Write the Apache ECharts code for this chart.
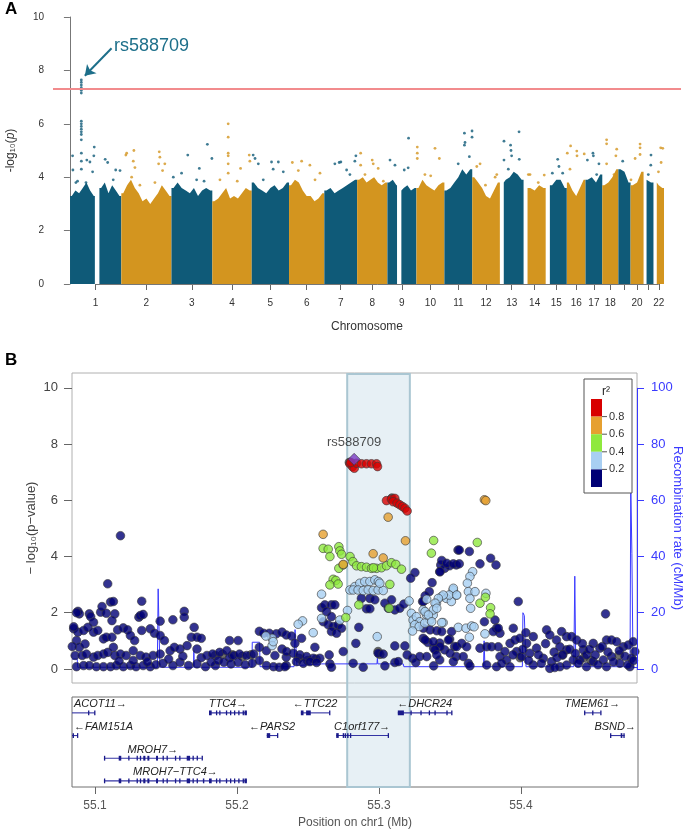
<!DOCTYPE html>
<html>
<head>
<meta charset="utf-8">
<script src="https://cdn.jsdelivr.net/npm/echarts@6/dist/echarts.min.js"></script>
<style>
  html, body { margin: 0; padding: 0; background: #fff; }
  #chart { width: 685px; height: 833px; }
</style>
</head>
<body>
<div id="chart"></div>
<script>
// ---------- panel A : genome-wide manhattan ----------
var chrLen = [249.25, 243.2, 198.0, 191.15, 180.9, 171.1, 159.1, 146.4, 141.2, 135.5, 135.0,
  133.9, 115.2, 107.3, 102.5, 90.4, 81.2, 78.1, 59.1, 63.0, 48.1, 51.3];
var chrTickLabels = ['1', '2', '3', '4', '5', '6', '7', '8', '9', '10', '11', '12', '13', '14',
  '15', '16', '17', '18', '', '20', '', '22'];
// parts of each chromosome that carry SNPs (Mb), null = whole chromosome
var chrCovered = [[[0.6, 121], [143, 249]], null, null, null, null, null, null, null,
  [[0.3, 47], [68, 141]], null, null, null, [[19, 115]], [[19, 107]], [[20, 102]],
  null, null, null, null, null, [[14.5, 48]], [[16, 51]]];
// height of the dense cloud along each chromosome
var chrTop = [
  [3.3, 3.5, 3.4, 3.6, 3.8, 3.5, 3.3, 3.4, 3.6, 3.8, 3.4, 3.7, 3.5, 3.3],
  [3.4, 3.7, 3.9, 3.6, 3.4, 3.1, 3.2, 3.0, 3.2, 3.4, 3.7, 3.5, 3.3],
  [3.6, 3.8, 3.6, 3.5, 3.4, 3.6, 3.3, 3.5, 3.6, 3.5],
  [3.1, 3.2, 3.4, 3.6, 3.2, 3.3, 3.2, 3.4, 3.6, 3.5],
  [3.8, 3.6, 3.5, 3.4, 3.6, 3.7, 3.5, 3.6, 3.8],
  [3.7, 3.9, 3.8, 3.5, 3.3, 3.3, 3.1, 3.2, 3.4],
  [3.5, 3.6, 3.4, 3.5, 3.6, 3.7, 3.8, 3.9],
  [3.9, 4.0, 3.8, 3.9, 4.0, 3.8, 3.7, 3.8],
  [3.8, 3.9, 3.7, 3.5, 3.6, 3.7, 3.5, 3.6],
  [3.6, 3.9, 3.7, 3.6, 3.5, 3.7, 3.8],
  [3.5, 3.6, 3.8, 4.0, 4.3, 4.1, 4.3],
  [4.0, 3.8, 3.6, 3.3, 3.2, 3.5, 3.8],
  [3.8, 3.9, 4.0, 4.2, 4.1, 3.9],
  [3.6, 3.6, 3.5, 3.7, 3.6],
  [3.7, 3.7, 3.9, 3.9, 3.6],
  [3.8, 3.5, 3.3, 3.6, 3.9],
  [3.9, 4.0, 3.8, 4.1],
  [3.7, 3.8, 4.0, 4.3],
  [4.3, 4.2, 3.8],
  [3.7, 3.8, 4.2],
  [3.9, 3.8],
  [3.8, 3.7, 3.6]
];
// single SNPs standing out above the cloud: [Mb on chromosome, -log10 p]
var chrHits = [
  [[14.5, 4.27], [13, 4.8], [29, 3.8], [37, 3.85], [55.3, 7.64], [55.3, 7.55], [55.3, 7.45], [55.3, 7.35],
   [55.3, 7.25], [55.3, 7.15], [55.3, 6.1], [55.3, 6.0], [55.3, 5.9], [55.3, 5.8], [55.3, 5.7], [55.3, 5.6],
   [55.3, 5.4], [55.5, 4.9], [55.5, 4.6], [55.5, 4.3], [82, 4.64], [97, 4.57], [118, 5.13], [116, 4.8],
   [110, 4.2], [78, 3.8], [171, 4.67], [183, 4.55], [222, 4.27], [243, 4.25], [210, 3.9]],
  [[22, 4.83], [26, 4.9], [61, 5.0], [58, 4.6], [66, 4.36], [50, 4.0], [184, 4.95], [187, 4.75],
   [181, 4.5], [200, 4.25], [211, 4.5], [163, 3.8], [90, 3.7]],
  [[79, 4.83], [49, 4.15], [135, 4.33], [174, 5.23], [196, 4.7], [9, 4.0], [122, 3.9], [158, 3.85]],
  [[77, 6.0], [77, 5.5], [77, 4.9], [77, 4.8], [77, 4.5], [77, 4.15], [137, 4.33], [179, 4.83],
   [182, 4.6], [37, 3.9], [121, 3.85]],
  [[7, 4.83], [16, 4.7], [32, 4.5], [96, 4.57], [129, 4.57], [104, 4.3], [56, 3.9], [153, 4.2]],
  [[16, 4.55], [61, 4.6], [101, 4.45], [150, 4.15], [45, 4.25], [126, 3.9]],
  [[51, 4.5], [72, 4.55], [80, 4.57], [108, 4.27], [153, 4.8], [148, 4.6], [124, 4.1]],
  [[17, 4.9], [17, 4.45], [73, 4.64], [78, 4.5], [102, 4.33], [38, 4.1], [127, 3.85]],
  [[13, 4.64], [37, 4.45], [82, 4.27], [103, 5.46], [101, 4.35]],
  [[4, 5.13], [4, 4.9], [4, 4.7], [90, 5.08], [111, 4.7], [41, 4.1], [69, 4.05]],
  [[97, 5.65], [97, 5.2], [100, 5.3], [121, 4.77], [134, 5.73], [134, 5.5], [67, 4.5]],
  [[22, 4.4], [64, 3.7], [111, 4.0], [119, 4.1], [38, 4.5]],
  [[20, 5.35], [52, 5.2], [54, 5.0], [57, 4.8], [93, 5.7], [94, 4.67], [20, 4.64], [41, 4.3]],
  [[23, 4.1], [31, 4.1], [100, 4.08], [71, 3.8]],
  [[58, 4.67], [32, 4.15], [82, 4.15], [64, 4.4]],
  [[18, 5.17], [2, 4.9], [48, 4.98], [49, 4.8], [84, 4.87], [15, 4.3]],
  [[9, 4.64], [36, 4.9], [38, 4.8], [65, 4.5], [54, 4.1]],
  [[21, 5.4], [21, 5.25], [70, 5.05], [66, 4.8], [21, 4.5], [57, 4.1]],
  [[21, 4.6]],
  [[46, 5.24], [46, 5.1], [46, 4.85], [22, 4.7], [2, 3.9]],
  [[36, 4.83], [35, 4.45], [23, 4.1]],
  [[35, 5.1], [45, 5.08], [37, 4.55], [24, 4.2]]
];
var gwsLine = 7.3;
var leadChr = 0, leadMb = 55.3;

// ---------- panel B : regional plot ----------
var leadSnp = [[55.2829, 7.46]];
var r2Red = [[55.2799, 7.3], [55.2817, 7.2], [55.283, 7.14], [55.2846, 7.32], [55.2881, 7.3], [55.2916, 7.3],
  [55.2951, 7.3], [55.2987, 7.3], [55.2994, 7.2], [55.2805, 7.35], [55.3057, 5.99], [55.3092, 6.04],
  [55.3116, 6.07], [55.3104, 5.95], [55.3132, 5.9], [55.3151, 5.84], [55.317, 5.78], [55.3187, 5.72],
  [55.3203, 5.62]];
var r2Orange = [[55.3069, 5.4], [55.261, 4.79], [55.3191, 4.56], [55.2963, 4.1], [55.3034, 3.95],
  [55.2752, 3.72], [55.3748, 6.02], [55.3758, 5.99]];
var r2Green = [[55.339, 4.57], [55.3374, 4.12], [55.3698, 4.5], [55.261, 4.29], [55.2646, 4.26], [55.2721, 4.35],
  [55.2728, 4.2], [55.2658, 4.0], [55.274, 4.08], [55.280, 4.0], [55.282, 3.82], [55.2721, 3.58],
  [55.2752, 3.7], [55.2846, 3.67], [55.288, 3.64], [55.2916, 3.62], [55.2951, 3.58], [55.2987, 3.58],
  [55.3022, 3.6], [55.3057, 3.67], [55.3092, 3.78], [55.3123, 3.72], [55.3163, 3.55], [55.2965, 3.6],
  [55.2681, 3.19], [55.2700, 3.15], [55.2658, 2.99], [55.2716, 3.02], [55.3081, 3.01], [55.2862, 2.28],
  [55.3076, 2.16], [55.277, 1.83], [55.3717, 2.34], [55.3755, 2.55], [55.3792, 2.18], [55.3788, 1.96]];
var r2Blue = [[55.225, 1.09], [55.225, 0.83], [55.2206, 1.17], [55.2258, 0.97],
  [55.2599, 2.66], [55.2799, 2.81], [55.2834, 2.93], [55.2869, 3.05], [55.2904, 3.11], [55.294, 3.11],
  [55.2975, 3.17], [55.300, 3.11], [55.2822, 2.81], [55.2857, 2.81], [55.2893, 2.79], [55.2928, 2.81],
  [55.2963, 2.79], [55.2998, 2.81], [55.3034, 2.79], [55.3010, 3.05],
  [55.2465, 1.71], [55.2434, 1.59], [55.254, 1.29], [55.2599, 1.8], [55.2728, 1.74], [55.2782, 2.08],
  [55.2992, 1.15], [55.3217, 2.42], [55.3233, 1.98], [55.3245, 1.74], [55.3268, 1.86], [55.3292, 1.68],
  [55.3316, 2.1], [55.334, 1.92], [55.3363, 1.74], [55.3257, 1.57], [55.3288, 1.51], [55.3241, 1.35],
  [55.3327, 1.63], [55.3410, 2.34], [55.3445, 2.57], [55.348, 2.51], [55.3515, 2.4], [55.355, 2.63],
  [55.3527, 2.81], [55.3457, 1.65], [55.3387, 1.92], [55.3665, 3.46], [55.3646, 3.29], [55.3628, 3.05],
  [55.3635, 2.75], [55.3646, 2.51], [55.3651, 2.16], [55.3682, 2.75], [55.3529, 2.87], [55.35, 2.63],
  [55.3553, 2.63], [55.3458, 2.63], [55.3423, 2.51], [55.34, 2.34], [55.3388, 2.1], [55.3412, 2.16],
  [55.3341, 2.48], [55.3329, 2.04], [55.3353, 1.92], [55.3376, 1.68], [55.3447, 1.65], [55.3564, 1.48],
  [55.3618, 1.45], [55.3658, 1.53], [55.3675, 1.5], [55.3642, 1.13], [55.3752, 1.25], [55.3759, 2.69]];
var r2Navy = [[55.109, 3.03], [55.118, 4.74], [55.111, 2.38], [55.113, 2.4], [55.133, 2.41], [55.088, 2.05],
  [55.089, 1.96], [55.087, 2.0], [55.096, 1.96], [55.097, 1.86], [55.099, 1.66], [55.104, 2.02],
  [55.105, 2.22], [55.108, 1.98], [55.114, 1.96], [55.112, 1.72], [55.131, 1.84], [55.132, 1.9],
  [55.134, 1.94], [55.146, 1.7], [55.155, 1.75], [55.163, 2.05], [55.163, 1.84], [55.170, 1.48],
  [55.085, 1.43], [55.088, 1.31], [55.092, 1.37], [55.095, 1.48], [55.099, 1.31], [55.102, 1.37],
  [55.106, 1.07], [55.108, 1.13], [55.112, 1.13], [55.116, 1.39], [55.120, 1.46], [55.123, 1.39],
  [55.125, 1.19], [55.128, 1.01], [55.133, 1.37], [55.139, 1.43], [55.142, 1.27], [55.146, 1.19],
  [55.149, 1.01], [55.153, 0.65], [55.156, 0.77], [55.160, 0.71], [55.165, 0.83], [55.168, 1.13],
  [55.172, 1.13], [55.175, 1.09], [55.172, 0.71], [55.087, 1.01], [55.089, 0.77], [55.093, 0.89],
  [55.086, 0.48], [55.091, 0.48], [55.094, 0.53], [55.099, 0.42], [55.102, 0.48], [55.106, 0.53],
  [55.109, 0.59], [55.113, 0.77], [55.114, 0.48], [55.118, 0.53], [55.122, 0.48], [55.127, 0.65],
  [55.132, 0.48], [55.136, 0.42], [55.141, 0.48], [55.146, 0.53], [55.084, 0.8], [55.085, 1.5],
  [55.087, 0.08], [55.092, 0.12], [55.096, 0.12], [55.101, 0.08], [55.106, 0.08], [55.111, 0.08],
  [55.115, 0.12], [55.120, 0.08], [55.125, 0.12], [55.129, 0.08], [55.134, 0.12], [55.139, 0.08],
  [55.143, 0.15], [55.148, 0.2], [55.155, 0.12], [55.160, 0.24], [55.166, 0.12], [55.172, 0.18],
  [55.178, 0.08], [55.117, 0.28], [55.127, 0.3], [55.137, 0.25], [55.152, 0.35], [55.162, 0.45],
  [55.175, 0.4], [55.185, 0.12], [55.195, 0.4],
  [55.179, 0.48], [55.183, 0.53], [55.188, 0.59], [55.193, 0.65], [55.195, 1.01], [55.201, 1.01],
  [55.198, 0.48], [55.202, 0.53], [55.207, 0.48], [55.212, 0.53], [55.182, 0.24], [55.187, 0.3],
  [55.191, 0.24], [55.196, 0.18], [55.201, 0.24], [55.206, 0.15], [55.211, 0.2],
  [55.216, 1.34], [55.219, 1.27], [55.223, 1.27], [55.228, 1.25], [55.232, 1.31], [55.235, 1.21],
  [55.216, 0.77], [55.221, 0.65], [55.227, 0.48], [55.232, 0.71], [55.235, 0.42], [55.216, 0.3],
  [55.221, 0.12], [55.226, 0.08], [55.230, 0.06], [55.235, 0.12],
  [55.2387, 1.17], [55.2352, 0.62], [55.2399, 0.56], [55.2446, 0.5], [55.2493, 0.44], [55.254, 0.38],
  [55.2587, 0.38], [55.2422, 0.26], [55.2470, 0.2], [55.2517, 0.26], [55.2564, 0.23], [55.2458, 1.09],
  [55.2552, 0.77], [55.2658, 0.18], [55.2411, 0.91], [55.2340, 0.08],
  [55.2599, 2.18], [55.2622, 2.28], [55.2669, 2.28], [55.2693, 2.28], [55.2634, 2.04], [55.2669, 1.86],
  [55.2611, 1.68], [55.2646, 1.57], [55.2681, 1.51], [55.2716, 1.57], [55.2740, 1.45], [55.2669, 1.33],
  [55.2705, 1.27], [55.2916, 2.14], [55.294, 2.14], [55.288, 2.51], [55.294, 2.51], [55.2975, 2.46],
  [55.3046, 2.34], [55.307, 2.16], [55.3116, 2.1], [55.3151, 2.16], [55.318, 2.31], [55.3093, 2.46],
  [55.3379, 3.07], [55.344, 3.7], [55.3468, 3.58], [55.3503, 3.67], [55.355, 3.7], [55.3562, 4.23],
  [55.3433, 3.46], [55.2862, 1.48], [55.2841, 0.91], [55.2752, 0.62], [55.2653, 0.5], [55.2669, 0.06],
  [55.2822, 0.2], [55.2893, 0.06], [55.2998, 0.56], [55.3034, 0.53], [55.3046, 0.11], [55.3116, 0.23],
  [55.314, 0.26], [55.3116, 0.82], [55.3187, 0.82], [55.3203, 0.5], [55.3241, 0.38], [55.3264, 0.23],
  [55.3292, 0.44], [55.3316, 1.09], [55.335, 0.94], [55.339, 0.74], [55.3433, 0.92], [55.3468, 0.68],
  [55.3503, 1.06], [55.3538, 0.8], [55.355, 0.44], [55.3433, 0.32], [55.339, 0.11],
  [55.3359, 2.75], [55.3312, 2.4], [55.3258, 3.43], [55.3228, 3.23], [55.3330, 2.6],
  [55.3571, 4.23], [55.3642, 4.18], [55.3792, 3.94], [55.383, 3.7], [55.3447, 3.86], [55.3482, 3.76],
  [55.3529, 3.74], [55.3571, 3.74], [55.3435, 3.46], [55.3717, 3.74], [55.3987, 2.4], [55.4603, 1.96],
  [55.3318, 2.4], [55.3748, 1.68], [55.3823, 1.74], [55.3952, 1.45], [55.3834, 1.45], [55.3858, 1.27],
  [55.3318, 1.45], [55.3365, 1.39], [55.3412, 1.36], [55.3447, 1.33], [55.333, 1.03], [55.3388, 0.97],
  [55.3435, 0.79], [55.3494, 1.03], [55.3517, 1.33], [55.3552, 0.79], [55.3588, 0.91], [55.3623, 0.79],
  [55.3506, 0.56], [55.3529, 0.26], [55.3635, 0.2], [55.3341, 0.44], [55.34, 0.68], [55.3717, 0.74],
  [55.3764, 0.79], [55.3799, 0.79], [55.3846, 0.79], [55.3811, 1.33], [55.3846, 1.45], [55.3764, 0.14],
  [55.3858, 0.44], [55.3905, 0.32], [55.3893, 0.62], [55.3929, 0.91], [55.3964, 1.03], [55.3999, 1.09],
  [55.4041, 1.29], [55.4093, 1.15], [55.4046, 0.91], [55.3976, 0.62], [55.4011, 0.44], [55.4069, 0.56],
  [55.4116, 0.74], [55.4187, 1.39], [55.421, 1.21], [55.4257, 1.03], [55.4293, 1.33], [55.4328, 1.15],
  [55.4363, 1.15], [55.4281, 0.79], [55.4328, 0.68], [55.4399, 1.03], [55.4446, 0.68], [55.4516, 0.91],
  [55.4563, 0.74], [55.461, 1.03], [55.4645, 1.03], [55.4681, 0.97], [55.4728, 0.79], [55.4763, 0.85],
  [55.4798, 0.97], [55.4810, 0.62], [55.4164, 0.38], [55.4222, 0.26], [55.4281, 0.08], [55.4328, 0.14],
  [55.4375, 0.32], [55.4422, 0.32], [55.4469, 0.5], [55.4516, 0.26], [55.4587, 0.32], [55.4645, 0.44],
  [55.4704, 0.2], [55.4775, 0.08], [55.4786, 0.38], [55.3834, 0.08], [55.3929, 0.08], [55.4093, 0.14],
  [55.421, 0.02], [55.4245, 0.05], [55.4469, 0.08], [55.461, 0.08], [55.3646, 0.11], [55.3412, 0.5],
  [55.3599, 0.44], [55.3870, 0.2], [55.3950, 0.5], [55.4020, 0.7], [55.4060, 0.3], [55.4130, 0.5],
  [55.4150, 0.2], [55.4180, 0.9], [55.4240, 0.6], [55.4260, 0.4], [55.4300, 0.5], [55.4350, 0.7],
  [55.4390, 0.55], [55.4410, 0.2], [55.4440, 0.9], [55.4490, 0.7], [55.4530, 0.5], [55.4550, 0.15],
  [55.4580, 0.8], [55.4620, 0.6], [55.4660, 0.25], [55.4700, 0.65], [55.4740, 0.45], [55.4760, 0.15],
  [55.4800, 0.3]];
var r2None = [[55.185, 0.48], [55.19, 0.52], [55.197, 0.5], [55.204, 0.45], [55.21, 0.5], [55.244, 0.38],
  [55.25, 0.3], [55.256, 0.35], [55.2998, 0.62], [55.301, 0.52], [55.40, 0.4], [55.43, 0.5], [55.445, 0.4],
  [55.45, 0.3], [55.47, 0.5], [55.2795, 7.35], [55.3095, 6.08]];
// recombination rate [Mb, cM/Mb]
var recomb = [[55.0838, 3.5], [55.0875, 3.5], [55.0878, 0.6], [55.1440, 0.6], [55.1446, 28.5], [55.1452, 28.5],
  [55.1458, 0.6], [55.1695, 0.6], [55.1698, 6.5], [55.1701, 0.6], [55.2108, 0.6], [55.2110, 9.5],
  [55.2162, 9.5], [55.2165, 0.8], [55.2405, 0.8], [55.2412, 14], [55.2419, 14], [55.2425, 1.2],
  [55.2600, 1.8], [55.2990, 1.8], [55.2993, 3.8], [55.2996, 1.8], [55.3175, 1.8], [55.3180, 0.8],
  [55.3742, 0.8], [55.3746, 10], [55.3752, 0.8], [55.4016, 0.8], [55.4020, 20], [55.4030, 19],
  [55.4042, 0.8], [55.4379, 0.8], [55.4386, 33], [55.4393, 0.8], [55.4776, 0.8], [55.4781, 65.5],
  [55.4786, 65], [55.4789, 41], [55.4794, 41], [55.4797, 0.5], [55.4825, 0.5]];
var highlightMb = [55.278, 55.3222];
var r2Colors = ['#d80000', '#e6a030', '#8fe93e', '#a8cff2', '#000075'];
var r2Breaks = ['0.8', '0.6', '0.4', '0.2'];

// ---------- genes ----------
var geneNames = ['ACOT11', 'TTC4', 'TTC22', 'DHCR24', 'TMEM61', 'FAM151A', 'PARS2', 'C1orf177', 'BSND',
  'MROH7', 'MROH7\u2212TTC4'];
var geneStart = [55.0138, 55.1803, 55.2450, 55.3133, 55.4445, 55.0744, 55.2210, 55.2699, 55.4628, 55.1063, 55.1063];
var geneEnd = [55.0998, 55.2070, 55.2652, 55.3512, 55.4562, 55.0876, 55.2285, 55.3066, 55.4731, 55.1752, 55.2070];
var geneStrand = [1, 1, -1, -1, 1, -1, -1, 1, 1, 1, 1];
var geneRow = [1, 1, 1, 1, 1, 2, 2, 2, 2, 3, 4];
var ttc4Exons = [[55.1803, 55.1822], [55.1852, 55.1855], [55.1875, 55.1878], [55.1922, 55.1925],
  [55.1951, 55.1954], [55.1979, 55.1982], [55.2009, 55.2012], [55.2040, 55.2043], [55.2053, 55.2070]];
var mroh7Exons = [[55.1063, 55.1066], [55.1167, 55.1185], [55.1234, 55.1237], [55.1293, 55.1296],
  [55.1316, 55.1319], [55.1340, 55.1355], [55.1369, 55.1383], [55.1430, 55.1444], [55.1476, 55.1479],
  [55.1504, 55.1507], [55.1563, 55.1566], [55.1593, 55.1596], [55.1646, 55.1670], [55.1687, 55.1690],
  [55.1716, 55.1719]];
var geneExons = [
  [[55.0951, 55.0955], [55.0994, 55.0998]],
  ttc4Exons,
  [[55.2450, 55.2469], [55.2487, 55.2520], [55.2649, 55.2652]],
  [[55.3133, 55.3176], [55.3222, 55.3225], [55.3292, 55.3295], [55.3351, 55.3354], [55.3391, 55.3394],
   [55.3475, 55.3478], [55.3509, 55.3512]],
  [[55.4445, 55.4448], [55.4502, 55.4505], [55.4559, 55.4562]],
  [[55.0842, 55.0852], [55.0873, 55.0876]],
  [[55.2210, 55.2234], [55.2282, 55.2285]],
  [[55.2699, 55.2717], [55.2745, 55.2748], [55.2758, 55.2768], [55.2776, 55.2786], [55.2796, 55.2799],
   [55.3062, 55.3066]],
  [[55.4628, 55.4631], [55.4703, 55.4715], [55.4722, 55.4731]],
  mroh7Exons.concat([[55.1751, 55.1754]]),
  mroh7Exons.concat([[55.1760, 55.1770]], ttc4Exons)
];

// ---------- derived ----------
var cumStart = [];
chrLen.reduce(function (acc, l, i) { cumStart[i] = acc; return acc + l; }, 0);
var chrMid = chrLen.map(function (l, i) { return cumStart[i] + l / 2; });
function chrColor(c) { return c % 2 === 0 ? '#0f5a78' : '#d3951f'; }
var hitData = [];
chrHits.forEach(function (list, c) {
  list.forEach(function (p) { hitData.push([cumStart[c] + p[0], p[1], c]); });
});
var aMin = -82, aMax = 2963;
var bMin = 55.0838, bMax = 55.4825;
var font = '"Liberation Sans", Arial, Helvetica, sans-serif';

function chrShape(params, api) {
  var c = params.dataIndex, len = chrLen[c], tops = chrTop[c];
  var step = len / tops.length, base = cumStart[c];
  var ranges = chrCovered[c] || [[0, len]];
  var kids = ranges.map(function (r) {
    var pts = [api.coord([base + r[0], 0])];
    var i0 = Math.min(tops.length - 1, Math.floor(r[0] / step));
    pts.push(api.coord([base + r[0], tops[i0]]));
    tops.forEach(function (h, i) {
      var m = (i + 0.5) * step;
      if (m > r[0] && m < r[1]) pts.push(api.coord([base + m, h]));
    });
    var i1 = Math.min(tops.length - 1, Math.floor(r[1] / step));
    pts.push(api.coord([base + r[1], tops[i1]]));
    pts.push(api.coord([base + r[1], 0]));
    return { type: 'polygon', shape: { points: pts }, style: { fill: chrColor(c) } };
  });
  return { type: 'group', children: kids };
}

var measureCtx = document.createElement('canvas').getContext('2d');
var geneFont = 'italic 11px ' + font;
function geneShape(params, api) {
  var g = params.dataIndex, cs = params.coordSys;
  var xs = Math.max(geneStart[g], bMin), xe = Math.min(geneEnd[g], bMax);
  var p0 = api.coord([xs, geneRow[g]]), p1 = api.coord([xe, geneRow[g]]);
  var y = p0[1];
  var kids = [{ type: 'line', shape: { x1: p0[0], y1: y, x2: p1[0], y2: y },
    style: { stroke: '#3434a4', lineWidth: 1.1 } }];
  geneExons[g].forEach(function (e) {
    var a = api.coord([Math.max(e[0], bMin), 0])[0], b = api.coord([e[1], 0])[0];
    kids.push({ type: 'rect', shape: { x: a, y: y - 2.4, width: Math.max(b - a, 1.3), height: 4.8 },
      style: { fill: '#1a1a8a' } });
  });
  var label = geneStrand[g] > 0 ? geneNames[g] + '\u2192' : '\u2190' + geneNames[g];
  measureCtx.font = geneFont;
  var w = measureCtx.measureText(label).width;
  var left = Math.min(Math.max((p0[0] + p1[0]) / 2 - w / 2, cs.x + 2), cs.x + cs.width - 2 - w);
  kids.push({ type: 'text', style: { x: left, y: y - 8.5, text: label, font: geneFont, fill: '#222',
    align: 'left', verticalAlign: 'middle' } });
  return { type: 'group', children: kids };
}

function highlightShape(params, api) {
  var a = api.coord([highlightMb[0], 1]), b = api.coord([highlightMb[1], 0]);
  return { type: 'rect', shape: { x: a[0], y: a[1] + 1, width: b[0] - a[0], height: b[1] - a[1] - 1 },
    style: { fill: 'rgba(208,225,236,0.5)', stroke: '#aac6d2', lineWidth: 2 } };
}

function snpSeries(name, data, color, z) {
  return { name: name, type: 'scatter', xAxisIndex: 1, yAxisIndex: 1, data: data, symbolSize: 8.6, z: z,
    itemStyle: { color: color, borderColor: '#3a3a3a', borderWidth: 0.8 }, silent: true };
}

// legend graphic built from the r2 colour list
var legendEls = [
  { type: 'rect', shape: { x: 584, y: 379, width: 48, height: 114 }, style: { fill: '#fff', stroke: '#555', lineWidth: 1 } },
  { type: 'text', style: { x: 606, y: 392, text: 'r\u00b2', font: '12px ' + font, fill: '#222', align: 'center', verticalAlign: 'middle' } }
];
r2Colors.forEach(function (c, i) {
  legendEls.push({ type: 'rect', shape: { x: 591, y: 399 + i * 17.6, width: 11, height: 17.6 }, style: { fill: c } });
});
r2Breaks.forEach(function (t, i) {
  var yy = 399 + (i + 1) * 17.6;
  legendEls.push({ type: 'line', shape: { x1: 602, y1: yy, x2: 607, y2: yy }, style: { stroke: '#555', lineWidth: 1 } });
  legendEls.push({ type: 'text', style: { x: 609, y: yy, text: t, font: '11px ' + font, fill: '#333', verticalAlign: 'middle' } });
});

var chart = echarts.init(document.getElementById('chart'));
var option = {
  animation: false,
  backgroundColor: '#fff',
  textStyle: { fontFamily: font },
  title: [
    { text: 'A', left: 5, top: 1, padding: 0, textStyle: { fontSize: 17, fontWeight: 'bold', color: '#000', fontFamily: font } },
    { text: 'B', left: 5, top: 352, padding: 0, textStyle: { fontSize: 17, fontWeight: 'bold', color: '#000', fontFamily: font } }
  ],
  grid: [
    { left: 53, top: 17, width: 628, height: 267, containLabel: false, outerBoundsMode: 'none' },
    { left: 72, top: 373, width: 565, height: 310, show: true, borderColor: '#b0b0b0', borderWidth: 1,
      containLabel: false, outerBoundsMode: 'none' },
    { left: 72, top: 697, width: 566, height: 90, show: true, borderColor: '#707070', borderWidth: 1,
      containLabel: false, outerBoundsMode: 'none' },
    { left: 72, top: 373, width: 565, height: 414, containLabel: false, outerBoundsMode: 'none' }
  ],
  xAxis: [
    { gridIndex: 0, type: 'value', min: aMin, max: aMax, name: 'Chromosome', nameLocation: 'middle', nameGap: 37,
      nameTextStyle: { fontSize: 12, color: '#333' }, splitLine: { show: false }, axisLine: { show: false },
      axisTick: { show: true, customValues: chrMid, length: 6, lineStyle: { color: '#666' } },
      axisLabel: { customValues: chrMid, fontSize: 10, color: '#333', margin: 14,
        formatter: function (v) {
          var i = chrMid.findIndex(function (m) { return Math.abs(m - v) < 1; });
          return i < 0 ? '' : chrTickLabels[i];
        } } },
    { gridIndex: 1, type: 'value', min: bMin, max: bMax, show: false, splitLine: { show: false } },
    { gridIndex: 2, type: 'value', min: bMin, max: bMax, name: 'Position on chr1 (Mb)', nameLocation: 'middle',
      nameGap: 30, nameTextStyle: { fontSize: 12, color: '#555' }, splitLine: { show: false },
      axisLine: { show: false },
      axisTick: { show: true, customValues: [55.1, 55.2, 55.3, 55.4], length: 7, lineStyle: { color: '#666' } },
      axisLabel: { customValues: [55.1, 55.2, 55.3, 55.4], fontSize: 12, color: '#555', margin: 13,
        formatter: function (v) { return v.toFixed(1); } } },
    { gridIndex: 3, type: 'value', min: bMin, max: bMax, show: false, splitLine: { show: false } }
  ],
  yAxis: [
    { gridIndex: 0, type: 'value', min: 0, max: 10, interval: 2,
      name: '{t|-log\u2081\u2080(}{i|p}{t|)}', nameLocation: 'middle', nameGap: 36,
      nameTextStyle: { rich: { t: { fontSize: 12, color: '#333' }, i: { fontSize: 12, color: '#333', fontStyle: 'italic' } } },
      splitLine: { show: false }, axisLine: { show: true, lineStyle: { color: '#777' } },
      axisTick: { show: true, length: 6, lineStyle: { color: '#777' } },
      axisLabel: { fontSize: 10, color: '#333', margin: 9 } },
    { gridIndex: 1, type: 'value', min: -0.5, max: 10.53, name: '\u2212 log\u2081\u2080(p\u2212value)',
      nameLocation: 'middle', nameGap: 34, nameMoveOverlap: false, nameTextStyle: { fontSize: 13, color: '#444' },
      splitLine: { show: false }, axisLine: { show: false },
      axisTick: { show: true, customValues: [0, 2, 4, 6, 8, 10], length: 8, lineStyle: { color: '#666' } },
      axisLabel: { customValues: [0, 2, 4, 6, 8, 10], fontSize: 13, color: '#444', margin: 14 } },
    { gridIndex: 1, type: 'value', position: 'right', min: -5, max: 105.3, name: 'Recombination rate (cM/Mb)',
      nameLocation: 'middle', nameGap: 34, nameRotate: -90, nameMoveOverlap: false,
      nameTextStyle: { fontSize: 13, color: '#3a3aff' },
      splitLine: { show: false }, axisLine: { show: false },
      axisTick: { show: true, customValues: [0, 20, 40, 60, 80, 100], length: 7, lineStyle: { color: '#3a3aff' } },
      axisLabel: { customValues: [0, 20, 40, 60, 80, 100], fontSize: 13, color: '#3a3aff', margin: 14 } },
    { gridIndex: 2, type: 'value', min: 0.3, max: 4.27, inverse: true, show: false, splitLine: { show: false } },
    { gridIndex: 3, type: 'value', min: 0, max: 1, show: false, splitLine: { show: false } }
  ],
  graphic: legendEls.map(function (e) { e.z = 100; return e; }),
  series: [
    { type: 'custom', xAxisIndex: 0, yAxisIndex: 0, renderItem: chrShape, silent: true, z: 2,
      data: chrLen.map(function (l, i) { return [cumStart[i], cumStart[i] + l, 0]; }), encode: { x: [0, 1], y: 2 } },
    { type: 'scatter', xAxisIndex: 0, yAxisIndex: 0, data: hitData, symbolSize: 2.8, z: 3, silent: true,
      itemStyle: { color: function (p) { return chrColor(p.data[2]); } },
      markLine: { silent: true, symbol: ['none', 'none'], label: { show: false },
        data: [
          { yAxis: gwsLine, lineStyle: { color: '#f28b8d', width: 2, type: 'solid' } },
          [{ coord: [chrMid[0], 0], lineStyle: { color: '#777', width: 1, type: 'solid' } }, { coord: [chrMid[21], 0] }],
          [{ coord: [cumStart[leadChr] + 202, 8.83], lineStyle: { color: '#1d6f8a', width: 2, type: 'solid' } },
           { coord: [cumStart[leadChr] + leadMb + 17, 7.8], symbol: 'arrow', symbolSize: 10 }]
        ] },
      markPoint: { silent: true, symbol: 'circle', symbolSize: 0.1,
        data: [{ coord: [cumStart[leadChr] + 213, 8.9], itemStyle: { color: 'transparent' },
          label: { show: true, position: 'right', distance: 0, formatter: 'rs588709', color: '#1d6f8a', fontSize: 18 } }] } },
    { type: 'custom', xAxisIndex: 3, yAxisIndex: 4, renderItem: highlightShape, silent: true, z: 1,
      data: [[highlightMb[0], highlightMb[1], 0.5]], encode: { x: [0, 1], y: 2 } },
    { type: 'line', xAxisIndex: 1, yAxisIndex: 2, data: recomb, showSymbol: false, symbol: 'none', z: 2,
      lineStyle: { color: '#3a3aff', width: 1 }, silent: true,
      markLine: { silent: true, symbol: ['none', 'none'], label: { show: false },
        lineStyle: { color: '#3a3aff', width: 1, type: 'solid' },
        data: [[{ coord: [bMax, 0] }, { coord: [bMax, 100] }]] } },
    snpSeries('none', r2None, '#4a4a4a', 4),
    snpSeries('r2<0.2', r2Navy, r2Colors[4], 4),
    snpSeries('r2 0.2-0.4', r2Blue, r2Colors[3], 5),
    snpSeries('r2 0.4-0.6', r2Green, r2Colors[2], 6),
    snpSeries('r2 0.6-0.8', r2Orange, r2Colors[1], 7),
    snpSeries('r2>0.8', r2Red, r2Colors[0], 8),
    { type: 'scatter', xAxisIndex: 1, yAxisIndex: 1, data: leadSnp, symbol: 'diamond', symbolSize: 12, z: 9,
      itemStyle: { color: '#7b3cc4', borderColor: '#3a3a3a', borderWidth: 0.8 }, silent: true,
      label: { show: true, position: 'top', distance: 4, formatter: 'rs588709', fontSize: 13, color: '#222' } },
    { type: 'custom', xAxisIndex: 2, yAxisIndex: 3, renderItem: geneShape, silent: true, z: 3, clip: true,
      data: geneNames.map(function (n, i) { return [geneStart[i], geneEnd[i], geneRow[i]]; }),
      encode: { x: [0, 1], y: 2 } }
  ]
};
chart.setOption(option);
</script>
</body>
</html>
